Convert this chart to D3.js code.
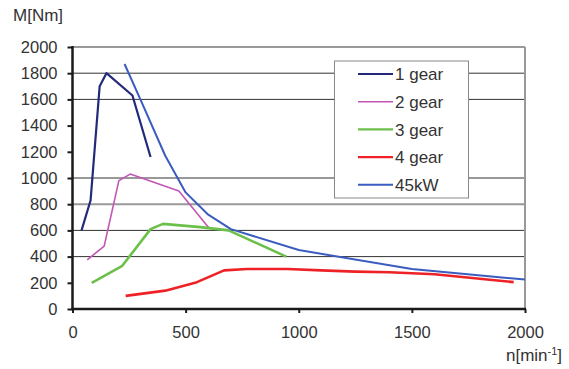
<!DOCTYPE html>
<html>
<head>
<meta charset="utf-8">
<script src="https://cdn.jsdelivr.net/npm/d3@7/dist/d3.min.js"></script>
<style>
  body { margin: 0; background: #fff; }
  svg text { font-family: "Liberation Sans", Arial, sans-serif; fill: #333; }
</style>
</head>
<body>
<div id="chart"></div>
<script>
// series: [n in 1/min, M in Nm]
var gear1 = [[40, 600], [80, 830], [120, 1700], [150, 1800], [265, 1630], [345, 1160]];
var gear2 = [[65, 375], [140, 480], [205, 980], [255, 1030], [470, 900], [605, 615]];
var gear3 = [[85, 200], [220, 330], [345, 610], [400, 650], [565, 625], [690, 600], [945, 400]];
var gear4 = [[235, 100], [410, 140], [550, 205], [670, 295], [770, 305], [950, 305], [1100, 295], [1250, 285], [1400, 280], [1600, 265], [1950, 205]];
var power45 = [[230, 1870], [300, 1600], [410, 1170], [500, 890], [600, 720], [700, 610], [1000, 450], [1500, 305], [2000, 225]];

var seriesNames = ["1 gear", "2 gear", "3 gear", "4 gear", "45kW"];
var seriesColors = ["#232a7a", "#c256b4", "#6cc04a", "#ee2226", "#3a5cbf"];
var seriesWidths = [2.2, 1.6, 2.6, 2.6, 2];

var xTicks = [0, 500, 1000, 1500, 2000];
var yTicks = [0, 200, 400, 600, 800, 1000, 1200, 1400, 1600, 1800, 2000];
var gridDark = [400, 600, 1000, 1600, 1800];
var gridGrey = [800, 2000];

var width = 569, height = 369;
var plotL = 72.5, plotR = 525, plotT = 47, plotB = 309;

var svg = d3.select("#chart").append("svg")
    .attr("width", width)
    .attr("height", height);

var x = d3.scaleLinear().domain([0, 2000]).range([plotL, plotR]);
var y = d3.scaleLinear().domain([0, 2000]).range([plotB, plotT]);

// gridlines
svg.append("g").selectAll("line")
  .data(gridDark)
  .enter().append("line")
    .attr("x1", plotL).attr("x2", plotR)
    .attr("y1", function(d) { return y(d); })
    .attr("y2", function(d) { return y(d); })
    .attr("stroke", "#333")
    .attr("stroke-width", 1);

svg.append("g").selectAll("line")
  .data(gridGrey)
  .enter().append("line")
    .attr("x1", plotL).attr("x2", plotR)
    .attr("y1", function(d) { return y(d); })
    .attr("y2", function(d) { return y(d); })
    .attr("stroke", "#999")
    .attr("stroke-width", 2);

// right border
svg.append("line")
    .attr("x1", plotR).attr("x2", plotR)
    .attr("y1", plotT).attr("y2", plotB)
    .attr("stroke", "#999")
    .attr("stroke-width", 2);

// series
var line = d3.line()
    .x(function(d) { return x(d[0]); })
    .y(function(d) { return y(d[1]); });

var allSeries = [gear1, gear2, gear3, gear4, power45];

svg.append("g").selectAll("path")
  .data(allSeries)
  .enter().append("path")
    .attr("d", line)
    .attr("fill", "none")
    .attr("stroke", function(d, i) { return seriesColors[i]; })
    .attr("stroke-width", function(d, i) { return seriesWidths[i]; })
    .attr("stroke-linejoin", "round");

// axes
var yAxis = svg.append("g")
    .attr("transform", "translate(" + plotL + ",0)")
    .call(d3.axisLeft(y).tickValues(yTicks).tickFormat(d3.format("d")).tickSize(5).tickPadding(10));

var xAxis = svg.append("g")
    .attr("transform", "translate(0," + plotB + ")")
    .call(d3.axisBottom(x).tickValues(xTicks).tickFormat(d3.format("d")).tickSize(4).tickPadding(13));

[yAxis, xAxis].forEach(function(a) {
  a.select(".domain").attr("stroke", "#1a1a1a").attr("stroke-width", 2.5);
  a.selectAll(".tick line").attr("stroke", "#1a1a1a").attr("stroke-width", 2);
  a.selectAll(".tick text")
    .style("font-size", "16.5px")
    .style("font-family", "'Liberation Sans', Arial, sans-serif")
    .attr("fill", "#333");
});
yAxis.select(".domain").attr("d", "M0," + (plotT - 1) + "V" + (plotB + 1));
xAxis.select(".domain").attr("d", "M" + (plotL - 1) + ",0H" + (plotR + 1));

// axis titles
svg.append("text")
    .attr("x", 13).attr("y", 21)
    .style("font-size", "17px")
    .text("M[Nm]");

var xt = svg.append("text")
    .attr("x", 506).attr("y", 361)
    .style("font-size", "17px");
xt.append("tspan").text("n[min");
xt.append("tspan").attr("dy", -6).style("font-size", "11px").text("-1");
xt.append("tspan").attr("dy", 6).text("]");

// legend
var legend = svg.append("g");
legend.append("rect")
    .attr("x", 334.5).attr("y", 61)
    .attr("width", 134).attr("height", 137)
    .attr("fill", "#fff")
    .attr("stroke", "#888")
    .attr("stroke-width", 1);

var item = legend.selectAll(".item")
  .data(seriesNames)
  .enter().append("g")
    .attr("class", "item")
    .attr("transform", function(d, i) { return "translate(0," + (74 + i * 27.7) + ")"; });

item.append("line")
    .attr("x1", 358).attr("x2", 393)
    .attr("stroke", function(d, i) { return seriesColors[i]; })
    .attr("stroke-width", function(d, i) { return Math.min(seriesWidths[i], 2.2); });

item.append("text")
    .attr("x", 395).attr("dy", "0.36em")
    .style("font-size", "17px")
    .text(function(d) { return d; });
</script>
</body>
</html>
